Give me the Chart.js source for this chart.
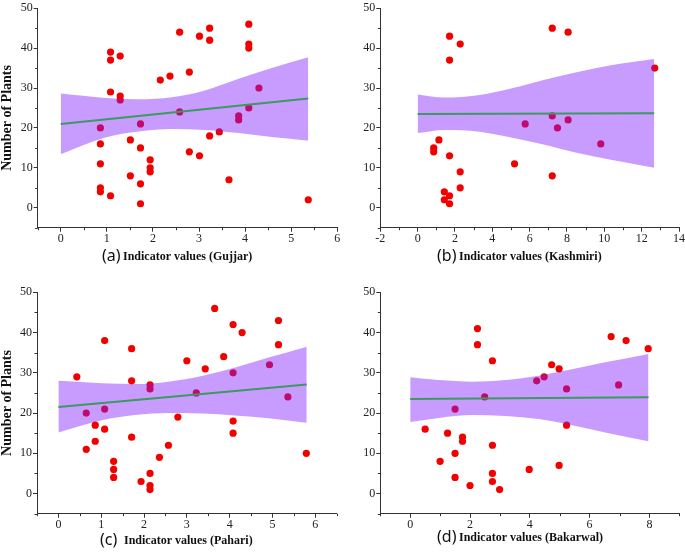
<!DOCTYPE html>
<html><head><meta charset="utf-8">
<script src="https://cdn.jsdelivr.net/npm/chart.js@4.4.0/dist/chart.umd.min.js"></script>
<style>
html,body{margin:0;padding:0;background:#fff;}
#wrap{position:relative;width:685px;height:555px;overflow:hidden;background:#fff;}
canvas{position:absolute;left:0;top:0;pointer-events:none;}
</style></head><body>
<div id="wrap">
<canvas id="ca" width="685" height="555"></canvas>
<canvas id="cb" width="685" height="555"></canvas>
<canvas id="cc" width="685" height="555"></canvas>
<canvas id="cd" width="685" height="555"></canvas>
</div>
<script>
// ---------- DATA ----------
// (a) Gujjar
const gujjarX = [0.86,0.86,0.86,0.86,0.86,1.08,1.08,1.08,1.08,1.29,1.29,1.29,1.51,1.51,1.73,1.73,1.73,1.73,1.94,1.94,1.94,2.16,2.37,2.58,2.58,2.79,2.79,3.01,3.01,3.23,3.23,3.23,3.44,3.65,3.86,3.86,4.08,4.08,4.08,4.08,4.30,5.37];
const gujjarY = [20,16,11,5,4,39,37,29,3,38,28,27,17,8,21,15,6,1,12,10,9,32,33,44,24,34,14,43,13,45,42,18,19,7,23,22,46,41,40,25,30,2];
const gujjarFitX = [0, 5.37];
const gujjarFitY = [21.0, 27.4];
const gujjarBandX = [0, 0.97, 1.69, 2.41, 3.13, 3.86, 4.58, 5.37];
const gujjarBandUpper = [28.6, 27.5, 27.2, 27.7, 29.4, 32.3, 35.0, 37.7];
const gujjarBandLower = [13.4, 17.6, 19.1, 19.7, 19.5, 18.7, 17.7, 16.8];

// (b) Kashmiri
const kashmiriX = [0.86,0.86,1.14,1.43,1.43,1.71,1.71,1.71,1.71,1.71,2.28,2.28,2.28,5.19,5.76,7.21,7.21,7.21,7.49,8.06,8.06,9.81,12.7];
const kashmiriY = [15,14,17,4,2,43,37,13,3,1,41,9,5,11,21,45,23,8,20,44,22,16,35];
const kashmiriFitX = [0, 12.67];
const kashmiriFitY = [23.5, 23.7];
const kashmiriBandX = [0, 1.45, 3.23, 5.0, 6.8, 8.57, 10.35, 12.67];
const kashmiriBandUpper = [28.4, 27.6, 28.2, 29.9, 32.1, 34.0, 35.7, 37.3];
const kashmiriBandLower = [18.7, 19.5, 19.1, 17.6, 15.8, 13.7, 12.0, 10.0];

// (c) Pahari
const pahariX = [0.43,0.65,0.65,0.86,0.86,1.08,1.08,1.08,1.29,1.29,1.29,1.71,1.71,1.71,1.93,2.14,2.14,2.14,2.14,2.14,2.36,2.57,2.79,3.0,3.22,3.43,3.65,3.86,4.08,4.08,4.08,4.08,4.29,4.93,5.14,5.14,5.36,5.79];
const pahariY = [29,20,11,17,13,38,21,16,8,6,4,36,28,14,3,27,26,5,2,1,9,12,19,33,25,31,46,34,42,30,18,15,40,32,43,37,24,10];
const pahariFitX = [0, 5.80];
const pahariFitY = [21.5, 27.1];
const pahariBandX = [0, 1.01, 1.79, 2.57, 3.35, 4.13, 4.91, 5.80];
const pahariBandUpper = [28.0, 27.4, 27.2, 27.8, 29.2, 31.3, 33.8, 36.5];
const pahariBandLower = [15.2, 18.2, 19.5, 20.0, 19.9, 19.4, 18.7, 17.6];

// (d) Bakarwal
const bakarwalX = [0.5,1.0,1.25,1.5,1.5,1.5,1.75,1.75,2.0,2.25,2.25,2.49,2.75,2.75,2.75,2.75,2.99,3.98,4.23,4.48,4.73,4.98,4.98,5.23,5.23,6.72,6.97,7.22,7.96];
const bakarwalY = [16,8,15,21,10,4,14,13,2,41,37,24,33,12,5,3,1,6,28,29,32,31,7,26,17,39,27,38,36];
const bakarwalFitX = [0, 7.97];
const bakarwalFitY = [23.5, 23.9];
const bakarwalBandX = [0, 0.96, 2.07, 3.18, 4.29, 5.41, 6.52, 7.97];
const bakarwalBandUpper = [28.9, 28.2, 27.8, 28.2, 29.3, 30.9, 32.6, 34.7];
const bakarwalBandLower = [17.8, 18.8, 19.5, 19.3, 18.5, 17.0, 15.2, 13.0];

// tick labels
const yTicks = [0, 10, 20, 30, 40, 50];
const yMinor = [-5, 5, 15, 25, 35, 45];
const xTicksA = [0, 1, 2, 3, 4, 5, 6];
const xMinorA = [-0.5, 0.5, 1.5, 2.5, 3.5, 4.5, 5.5];
const xTicksB = [-2, 0, 2, 4, 6, 8, 10, 12, 14];
const xMinorB = [-1, 1, 3, 5, 7, 9, 11, 13];
const xTicksC = [0, 1, 2, 3, 4, 5, 6];
const xMinorC = [-0.5, 0.5, 1.5, 2.5, 3.5, 4.5, 5.5, 6.5];
const xTicksD = [0, 2, 4, 6, 8];
const xMinorD = [-1, 1, 3, 5, 7, 9];

const yTitle = 'Number of Plants';
const captionLetters = ['(a)', '(b)', '(c)', '(d)'];
const captionTexts = ['Indicator values (Gujjar)', 'Indicator values (Kashmiri)', 'Indicator values (Pahari)', 'Indicator values (Bakarwal)'];

// ---------- STYLE ----------
const AXIS = '#333';
const POINT = '#f20000';
const BAND = 'rgba(128,23,255,0.43)';
const FIT = '#3b9a5c';
Chart.defaults.font.family = '"Liberation Serif", serif';
Chart.defaults.color = '#222';

const zip = (xs, ys) => xs.map((x, i) => ({x: x, y: ys[i]}));

function makeExtras(cfg) {
  return {
    id: 'extras',
    afterDraw(chart) {
      const ctx = chart.ctx;
      const xs = chart.scales.x, ys = chart.scales.y;
      ctx.save();
      ctx.strokeStyle = AXIS; ctx.lineWidth = 1;
      ctx.beginPath();
      cfg.xMinor.forEach(v => {
        const px = Math.round(xs.getPixelForValue(v)) + 0.5;
        ctx.moveTo(px, ys.bottom); ctx.lineTo(px, ys.bottom + 2.5);
      });
      cfg.yMinor.forEach(v => {
        const py = Math.round(ys.getPixelForValue(v)) + 0.5;
        ctx.moveTo(xs.left, py); ctx.lineTo(xs.left - 2.5, py);
      });
      ctx.stroke();
      ctx.fillStyle = '#111';
      ctx.textBaseline = 'middle';
      ctx.textAlign = 'left';
      ctx.font = '16px "Noto Sans"';
      ctx.fillText(cfg.letter, cfg.letterX, cfg.capY - 1);
      ctx.font = 'bold 12px "Liberation Serif"';
      ctx.fillText(cfg.caption, cfg.textX, cfg.capY);
      ctx.restore();
    }
  };
}

function makeChart(id, p) {
  const datasets = [
    { label: 'fit', data: zip(p.fitX, p.fitY), borderColor: FIT, borderWidth: 2, pointRadius: 0, fill: false, order: 1 },
    { label: 'upper', data: zip(p.bandX, p.upper), borderWidth: 0, borderColor: 'rgba(0,0,0,0)', pointRadius: 0, cubicInterpolationMode: 'monotone', fill: false, order: 2 },
    { label: 'lower', data: zip(p.bandX, p.lower), borderWidth: 0, borderColor: 'rgba(0,0,0,0)', pointRadius: 0, cubicInterpolationMode: 'monotone', fill: '-1', backgroundColor: BAND, order: 2 },
    { label: 'points', data: zip(p.x, p.y), showLine: false, pointRadius: 3.6, pointBackgroundColor: POINT, pointBorderWidth: 0, pointBorderColor: POINT, order: 3 }
  ];
  return new Chart(document.getElementById(id), {
    type: 'line',
    data: { datasets: datasets },
    options: {
      responsive: false,
      animation: false,
      events: [],
      layout: { padding: p.pad },
      plugins: { legend: { display: false }, tooltip: { enabled: false } },
      scales: {
        x: {
          type: 'linear', min: p.xMin, max: p.xMax,
          afterBuildTicks: s => { s.ticks = p.xTicks.map(v => ({value: v})); },
          afterFit: s => { s.height = 30; },
          border: { display: true, color: AXIS, width: 1 },
          grid: { drawOnChartArea: false, drawTicks: true, tickLength: 4, color: AXIS },
          ticks: { padding: 0, maxRotation: 0, font: { size: 12 }, color: '#222' }
        },
        y: {
          type: 'linear', min: -5, max: 50,
          afterBuildTicks: s => { s.ticks = yTicks.map(v => ({value: v})); },
          afterFit: s => { s.width = p.yW; },
          border: { display: true, color: AXIS, width: 1 },
          grid: { drawOnChartArea: false, drawTicks: true, tickLength: 4, color: AXIS },
          ticks: { padding: 1, font: { size: 12 }, color: '#222' },
          title: { display: p.showTitle, text: yTitle, padding: 0, color: '#111', font: { size: 14, weight: 'bold', lineHeight: 1 } }
        }
      }
    },
    plugins: [makeExtras(p)]
  });
}

makeChart('ca', { x: gujjarX, y: gujjarY, fitX: gujjarFitX, fitY: gujjarFitY, bandX: gujjarBandX, upper: gujjarBandUpper, lower: gujjarBandLower,
  xMin: -0.5, xMax: 6, xTicks: xTicksA, xMinor: xMinorA, yMinor: yMinor, yW: 37.7, showTitle: true,
  pad: { left: 0, top: 5.7, right: 347.7, bottom: 297.3 },
  letter: captionLetters[0], caption: captionTexts[0], letterX: 102, textX: 123, capY: 257 });

makeChart('cb', { x: kashmiriX, y: kashmiriY, fitX: kashmiriFitX, fitY: kashmiriFitY, bandX: kashmiriBandX, upper: kashmiriBandUpper, lower: kashmiriBandLower,
  xMin: -2, xMax: 14, xTicks: xTicksB, xMinor: xMinorB, yMinor: yMinor, yW: 37.7, showTitle: false,
  pad: { left: 342.6, top: 5.7, right: 5.7, bottom: 297.3 },
  letter: captionLetters[1], caption: captionTexts[1], letterX: 437, textX: 459, capY: 257 });

makeChart('cc', { x: pahariX, y: pahariY, fitX: pahariFitX, fitY: pahariFitY, bandX: pahariBandX, upper: pahariBandUpper, lower: pahariBandLower,
  xMin: -0.5, xMax: 6.5, xTicks: xTicksC, xMinor: xMinorC, yMinor: yMinor, yW: 37, showTitle: true,
  pad: { left: 0, top: 292.3, right: 348.3, bottom: 11.3 },
  letter: captionLetters[2], caption: captionTexts[2], letterX: 100, textX: 124, capY: 541 });

makeChart('cd', { x: bakarwalX, y: bakarwalY, fitX: bakarwalFitX, fitY: bakarwalFitY, bandX: bakarwalBandX, upper: bakarwalBandUpper, lower: bakarwalBandLower,
  xMin: -1, xMax: 9, xTicks: xTicksD, xMinor: xMinorD, yMinor: yMinor, yW: 37.7, showTitle: false,
  pad: { left: 342.6, top: 292.3, right: 5.7, bottom: 11.3 },
  letter: captionLetters[3], caption: captionTexts[3], letterX: 437, textX: 459, capY: 538 });
</script>
</body></html>
